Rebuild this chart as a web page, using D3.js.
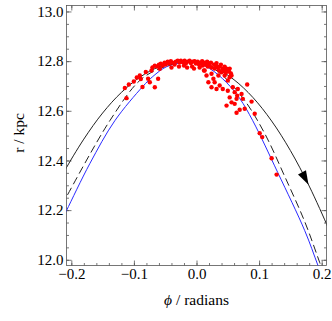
<!DOCTYPE html>
<html><head><meta charset="utf-8">
<script src="https://cdn.jsdelivr.net/npm/d3@7"></script>
<style>
body{margin:0;background:#fff}
svg text{font-family:"Liberation Serif","DejaVu Serif","Times New Roman",Times,serif !important;fill:#000}
</style>
</head><body>
<svg id="c" width="332" height="321"></svg>
<script>
// ---- data ----
const xTicks = [-0.2, -0.1, 0.0, 0.1, 0.2];
const yTicks = [12.0, 12.2, 12.4, 12.6, 12.8, 13.0];
const xMinor = d3.range(-0.2, 0.2001, 0.02).map(v => +v.toFixed(2));
const yMinor = d3.range(12.0, 13.0001, 0.05).map(v => +v.toFixed(2));

const blackPhi = [-0.215,-0.21,-0.18,-0.15,-0.12,-0.09,-0.06,-0.03,-0.015,0,0.03,0.06,0.09,0.12,0.15,0.18,0.21,0.215];
const blackR   = [12.335,12.361,12.486,12.591,12.674,12.736,12.777,12.798,12.800,12.797,12.773,12.725,12.654,12.559,12.440,12.297,12.131,12.100];

const dashPhi = [-0.215,-0.2077,-0.1385,-0.0906,-0.0586,-0.0187,0.0133,0.0452,0.0772,0.1091,0.1411,0.1730,0.1970,0.215];
const dashR   = [12.220,12.254,12.560,12.722,12.770,12.796,12.790,12.734,12.641,12.508,12.335,12.153,11.988,11.862];

const bluePhi = [-0.215,-0.2077,-0.1705,-0.1305,-0.0858,-0.0698,-0.0474,-0.0187,0.0005,0.0212,0.0479,0.0692,0.0899,0.1299,0.1730,0.1942,0.215];
const blueR   = [12.160,12.198,12.387,12.560,12.698,12.738,12.778,12.794,12.792,12.770,12.714,12.649,12.560,12.351,12.117,11.976,11.835];

const ptPhi = [
 -0.1145,-0.1081,-0.1002,-0.0906,-0.0890,-0.0863,-0.1118,-0.0773,-0.0746,-0.0719,-0.0666,-0.0613,-0.0586,-0.0703,-0.0666,-0.0810,-0.0954,
 -0.063,-0.060,-0.057,-0.054,-0.051,-0.049,-0.046,-0.043,-0.041,-0.038,-0.035,-0.033,-0.030,-0.027,-0.025,-0.022,-0.019,-0.017,-0.014,-0.011,
 -0.009,-0.006,-0.003,-0.001,0.002,0.004,0.007,0.009,0.010,0.013,0.015,0.017,0.018,0.020,0.021,0.023,0.024,0.028,0.029,0.031,0.032,0.034,
 0.036,0.037,0.039,0.042,0.044,0.045,0.047,0.048,0.052,0.053,0.055,-0.007,-0.015,-0.028,-0.040,-0.020,0.005,0.012,-0.004,
 0.013,0.016,0.024,0.027,0.029,0.035,0.040,0.045,0.048,0.050,0.053,0.037,0.032,0.042,0.050,0.058,0.061,0.053,0.056,0.064,0.024,0.019,
 0.056,0.066,0.081,0.065,0.072,0.061,0.074,0.088,0.077,0.069,0.064,0.093,0.048,0.101,0.105,0.120,0.128
];
const ptR = [
 12.692,12.706,12.718,12.742,12.728,12.696,12.651,12.729,12.715,12.762,12.695,12.729,12.769,12.775,12.782,12.756,12.734,
 12.778,12.786,12.790,12.782,12.794,12.786,12.798,12.790,12.800,12.794,12.786,12.798,12.802,12.794,12.802,12.796,12.802,12.790,12.798,12.802,
 12.792,12.798,12.800,12.790,12.798,12.786,12.794,12.800,12.782,12.794,12.786,12.798,12.778,12.790,12.782,12.794,12.774,12.786,12.770,12.782,12.792,12.774,
 12.762,12.778,12.786,12.770,12.762,12.778,12.754,12.770,12.758,12.770,12.750,12.778,12.774,12.778,12.774,12.782,12.774,12.762,12.770,
 12.762,12.742,12.749,12.729,12.715,12.742,12.755,12.742,12.762,12.722,12.735,12.702,12.688,12.688,12.681,12.695,12.675,12.654,12.634,12.648,12.695,12.715,
 12.742,12.688,12.706,12.661,12.668,12.628,12.648,12.637,12.608,12.604,12.592,12.588,12.621,12.510,12.494,12.409,12.343
];
const arrowPhi = 0.179;

// ---- chart ----
const FONT = '"Liberation Serif","DejaVu Serif",serif';
const svg = d3.select("#c");
const L = 66.5, R = 326.5, T = 5.5, B = 265.5;
const x = d3.scaleLinear().domain([-0.2077, 0.2077]).range([L, R]);
const y = d3.scaleLinear().domain([11.977, 13.024]).range([B, T]);

svg.append("defs").append("clipPath").attr("id","clip")
  .append("rect").attr("x",L).attr("y",T).attr("width",R-L).attr("height",B-T);

const frameCol = "#555";
function styleAxis(g){
  g.attr("font-family", FONT).attr("font-size", 15);
  g.select(".domain").remove();
  g.selectAll(".tick line").attr("stroke", frameCol).attr("stroke-width", 0.8);
  g.selectAll("text").style("font-family", FONT).style("font-size", "15px").attr("fill","#000");
}
// minor ticks
const mk = (axis, tr, vals, size) => svg.append("g").attr("transform", tr)
  .call(axis.tickValues(vals).tickSize(size).tickFormat("")).call(styleAxis);
mk(d3.axisBottom(x), `translate(0,${B})`, xMinor, -2.5);
mk(d3.axisTop(x), `translate(0,${T})`, xMinor, -2.5);
mk(d3.axisLeft(y), `translate(${L},0)`, yMinor, -2.5);
mk(d3.axisRight(y), `translate(${R},0)`, yMinor, -2.5);
// major ticks
svg.append("g").attr("transform", `translate(0,${B})`)
  .call(d3.axisBottom(x).tickValues(xTicks).tickSize(-5).tickPadding(3).tickFormat(d3.format(".1f"))).call(styleAxis);
svg.append("g").attr("transform", `translate(0,${T})`)
  .call(d3.axisTop(x).tickValues(xTicks).tickSize(-5).tickFormat("")).call(styleAxis);
svg.append("g").attr("transform", `translate(${L},0)`)
  .call(d3.axisLeft(y).tickValues(yTicks).tickSize(-5).tickPadding(3).tickFormat(d3.format(".1f"))).call(styleAxis);
svg.append("g").attr("transform", `translate(${R},0)`)
  .call(d3.axisRight(y).tickValues(yTicks).tickSize(-5).tickFormat("")).call(styleAxis);

// frame
svg.append("rect").attr("x",L).attr("y",T).attr("width",R-L).attr("height",B-T)
  .attr("fill","none").attr("stroke",frameCol).attr("stroke-width",0.8);

const plot = svg.append("g").attr("clip-path","url(#clip)");
const line = d3.line().x(d => x(d[0])).y(d => y(d[1])).curve(d3.curveCatmullRom);
const zip = (a,b) => a.map((v,i)=>[v,b[i]]);

plot.append("path").attr("d", line(zip(bluePhi, blueR))).attr("fill","none").attr("stroke","#2a2aff").attr("stroke-width",1);
plot.append("path").attr("d", line(zip(dashPhi, dashR))).attr("fill","none").attr("stroke","#222").attr("stroke-width",1).attr("stroke-dasharray","8,4");
plot.append("path").attr("d", line(zip(blackPhi, blackR))).attr("fill","none").attr("stroke","#222").attr("stroke-width",1);

// arrow head on black curve
const fB = d3.scaleLinear().domain(blackPhi).range(blackR);
const tip = [x(arrowPhi), y(fB(arrowPhi))];
const back = [x(arrowPhi-0.01), y(fB(arrowPhi-0.01))];
let dx = tip[0]-back[0], dy = tip[1]-back[1];
const len = Math.hypot(dx,dy); dx/=len; dy/=len;
const AL = 14, AW = 4.5;
const bc = [tip[0]-dx*AL, tip[1]-dy*AL];
plot.append("path").attr("d", `M${tip[0]},${tip[1]}L${bc[0]-dy*AW},${bc[1]+dx*AW}L${bc[0]+dy*AW},${bc[1]-dx*AW}Z`).attr("fill","#000");

// points
plot.selectAll("circle").data(zip(ptPhi, ptR)).enter().append("circle")
  .attr("cx", d => x(d[0])).attr("cy", d => y(d[1])).attr("r", 2.2).attr("fill", "#ff0000");

// axis titles
svg.append("text").attr("x", 196.5).attr("y", 305).attr("text-anchor","middle")
  .style("font-family", FONT).style("font-size","15.5px")
  .html('<tspan font-style="italic">ϕ</tspan> / radians');
svg.append("text").attr("transform","translate(24,133) rotate(-90)").attr("text-anchor","middle")
  .style("font-family", FONT).style("font-size","15.5px")
  .text("r / kpc");
</script>
</body></html>
